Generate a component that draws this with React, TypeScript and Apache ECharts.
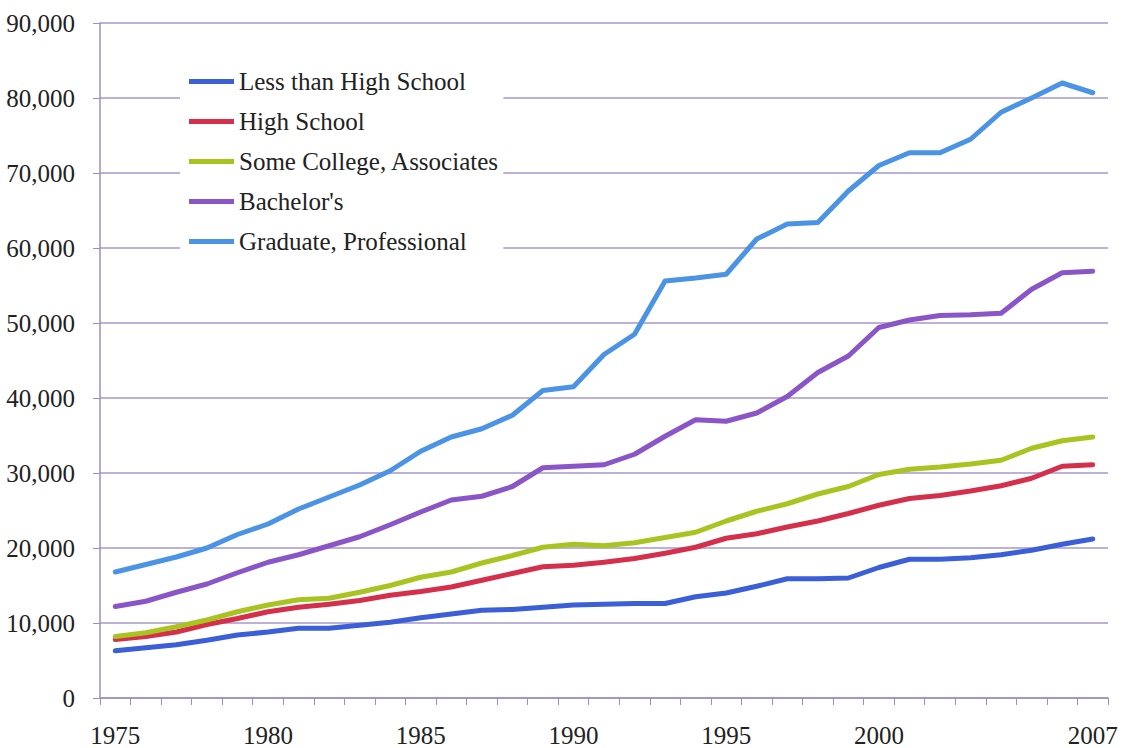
import React, { useEffect, useRef } from "react";
import * as echarts from "echarts";

const years = [
  "1975","1976","1977","1978","1979","1980","1981","1982","1983","1984",
  "1985","1986","1987","1988","1989","1990","1991","1992","1993","1994",
  "1995","1996","1997","1998","1999","2000","2001","2002","2003","2004",
  "2005","2006","2007",
];
const shownYearLabels = ["1975", "1980", "1985", "1990", "1995", "2000", "2007"];

const lessThanHighSchool = [
  6300, 6700, 7100, 7700, 8400, 8800, 9300, 9300, 9700, 10100,
  10700, 11200, 11700, 11800, 12100, 12400, 12500, 12600, 12600, 13500,
  14000, 14900, 15900, 15900, 16000, 17400, 18500, 18500, 18700, 19100,
  19700, 20500, 21200,
];
const highSchool = [
  7800, 8200, 8800, 9800, 10600, 11500, 12100, 12500, 13000, 13700,
  14200, 14800, 15700, 16600, 17500, 17700, 18100, 18600, 19300, 20100,
  21300, 21900, 22800, 23600, 24600, 25700, 26600, 27000, 27600, 28300,
  29300, 30900, 31100,
];
const someCollege = [
  8200, 8700, 9500, 10400, 11500, 12400, 13100, 13300, 14100, 15000,
  16100, 16800, 18000, 19000, 20100, 20500, 20300, 20700, 21400, 22100,
  23600, 24900, 25900, 27200, 28200, 29800, 30500, 30800, 31200, 31700,
  33300, 34300, 34800,
];
const bachelors = [
  12200, 12900, 14100, 15200, 16700, 18100, 19100, 20300, 21500, 23100,
  24800, 26400, 26900, 28200, 30700, 30900, 31100, 32500, 34900, 37100,
  36900, 38000, 40200, 43400, 45600, 49400, 50400, 51000, 51100, 51300,
  54500, 56700, 56900,
];
const graduate = [
  16800, 17800, 18800, 20000, 21800, 23200, 25200, 26800, 28400, 30300,
  32900, 34800, 35900, 37700, 41000, 41500, 45800, 48500, 55600, 56000,
  56500, 61200, 63200, 63400, 67600, 71000, 72700, 72700, 74500, 78100,
  80000, 82000, 80700,
];

const seriesNames = [
  "Less than High School",
  "High School",
  "Some College, Associates",
  "Bachelor's",
  "Graduate, Professional",
];
const seriesData = [lessThanHighSchool, highSchool, someCollege, bachelors, graduate];
const seriesColors = ["#3b5fd7", "#d5304b", "#a9c421", "#8a55c7", "#4b93e4"];

const FONT = "'Liberation Serif', 'Times New Roman', serif";

export default function App() {
  const ref = useRef<HTMLDivElement>(null);

  useEffect(() => {
    if (!ref.current) return;
    const chart = echarts.init(ref.current, null, { renderer: "svg" });
    chart.setOption({
      animation: false,
      backgroundColor: "#ffffff",
      grid: { left: 100, right: 14, top: 23, bottom: 50, containLabel: false },
      legend: {
        orient: "vertical",
        left: 180,
        top: 52,
        padding: [17, 4, 12, 9],
        backgroundColor: "#ffffff",
        itemWidth: 45,
        itemHeight: 5,
        itemGap: 15,
        icon: "rect",
        data: seriesNames,
        textStyle: {
          fontFamily: FONT,
          fontSize: 25,
          color: "#222222",
          lineHeight: 25,
        },
      },
      xAxis: {
        type: "category",
        data: years,
        boundaryGap: true,
        axisLine: { lineStyle: { color: "#9a8fc2", width: 1.5 } },
        axisTick: { show: true, interval: 0, length: 7, lineStyle: { color: "#9a8fc2" } },
        axisLabel: {
          interval: (_i: number, v: string) => shownYearLabels.includes(v),
          fontFamily: FONT,
          fontSize: 25,
          color: "#222222",
          margin: 25,
        },
        splitLine: { show: false },
      },
      yAxis: {
        type: "value",
        min: 0,
        max: 90000,
        interval: 10000,
        axisLine: { show: true, lineStyle: { color: "#9a8fc2", width: 1.5 } },
        axisTick: { show: true, length: 7, lineStyle: { color: "#9a8fc2" } },
        axisLabel: {
          fontFamily: FONT,
          fontSize: 25,
          color: "#222222",
          margin: 25,
          formatter: (v: number) => v.toLocaleString("en-US"),
        },
        splitLine: { show: true, lineStyle: { color: "#a597cc", width: 1.5 } },
      },
      series: seriesNames.map((name, i) => ({
        name,
        type: "line",
        data: seriesData[i],
        showSymbol: false,
        symbol: "none",
        color: seriesColors[i],
        lineStyle: { width: 5, color: seriesColors[i], cap: "round", join: "round" },
        z: 2 + i,
      })),
    });
    return () => chart.dispose();
  }, []);

  return (
    <div
      ref={ref}
      style={{ position: "fixed", left: 0, top: 0, width: 1122, height: 748 }}
    />
  );
}
